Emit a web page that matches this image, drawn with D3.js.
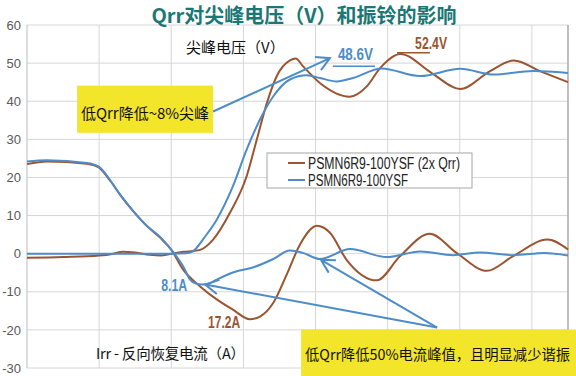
<!DOCTYPE html>
<html>
<head>
<meta charset="utf-8">
<script src="https://cdn.jsdelivr.net/npm/d3@7"></script>
<style>
  body { margin: 0; background: #fff; }
  svg { display: block; }
</style>
</head>
<body>
<div id="chart"></div>
<script>
// axis values
var yTicks = [-30, -20, -10, 0, 10, 20, 30, 40, 50, 60];
var xGrid = [0, 20, 40, 60, 80, 100, 120, 140];
var seriesNames = ["PSMN6R9-100YSF (2x Qrr)", "PSMN6R9-100YSF"];

// spike voltage (V), time in ns
var vBrownT = [0, 10, 20, 24, 26.5, 30, 34, 37, 40.1, 43.5, 46, 48, 51.6, 56.3, 60.9, 63.7, 66.5, 69.2, 72.9, 74.5, 76.5, 81.2, 89.5, 94.2, 97.9, 103.5, 112.2, 120.1, 128.4, 135, 142.2, 150];
var vBrownV = [-1.1, -0.9, -0.5, 0, 0.5, 0.3, -0.3, -0.5, 0, 0.5, 0.7, 1.0, 3.7, 10.8, 20.3, 29.9, 39.5, 46.5, 50.7, 51.2, 49.2, 44.8, 41.2, 43.9, 48.7, 52.4, 47.4, 43.2, 47.9, 50.7, 47.9, 45.0];
var vBlueT = [0, 20, 40, 44, 45.8, 47, 49, 52.6, 57.1, 60.9, 64.6, 68.3, 72.9, 77.6, 81.2, 85.9, 90.4, 98.3, 109, 120.1, 129.5, 140.3, 150];
var vBlueV = [0, 0, 0, 0.1, 0.5, 1.5, 4, 8.9, 17.7, 27.3, 35.2, 41.3, 45.7, 46.8, 46.1, 45.2, 46.1, 48.6, 46.6, 48.5, 47.0, 47.9, 47.4];

// reverse recovery current (A)
var iBrownT = [0, 5.5, 16.6, 19.8, 23, 25.8, 29.5, 33.2, 36.9, 40.1, 43.3, 48, 52.6, 57.1, 61.8, 64.6, 68.3, 72, 75.7, 80.4, 84, 88.6, 97, 103.4, 111.7, 119.1, 127.5, 134.7, 144.3, 150];
var iBrownV = [23.5, 24.2, 23.6, 22.7, 19.2, 15.5, 11.1, 7.3, 4.2, 0.9, -4.2, -8.6, -12, -14.7, -17.2, -16.5, -12.9, -5.5, 2.4, 7.3, 5.5, -1.6, -7, -0.7, 5.2, 0.2, -4.5, -0.7, 3.7, 1.1];
var iBlueT = [0, 5.5, 16.6, 19.8, 23, 25.8, 29.5, 33.2, 36.9, 40.1, 43.3, 45.2, 47, 48.5, 50.5, 52.6, 57.5, 63, 68.3, 72.9, 76.5, 81.2, 89.6, 99.7, 109, 118.1, 125.6, 134.7, 143.5, 150];
var iBlueV = [24.2, 24.5, 23.8, 22.9, 19.4, 15.5, 11.1, 7.3, 4.4, 0.9, -3.3, -6.8, -7.9, -8.1, -7.8, -6.8, -4.8, -3.5, -1.4, 0.8, 0.2, -1.4, 1.2, -0.9, 0.6, -0.4, 0.3, -0.4, 0.2, -0.5];

var brown = "#9b5430";
var blue = "#4d8cc8";
var yellow = "#f3e52a";
var cjk = "'Noto Sans CJK SC', sans-serif";
var narrow = "'Liberation Sans Narrow', 'Liberation Sans', Arial, sans-serif";

function init() {
    var width = 576, height = 376;
    var x = d3.scaleLinear().domain([0, 150]).range([27, 568]);
    var y = d3.scaleLinear().domain([-30, 60]).range([368, 25]);

    var svg = d3.select("#chart").append("svg")
        .attr("width", width)
        .attr("height", height);

    // grid
    svg.append("g").selectAll("line")
        .data(yTicks).enter().append("line")
        .attr("x1", x(0)).attr("x2", x(150))
        .attr("y1", d => y(d)).attr("y2", d => y(d))
        .attr("stroke", "#d6d6d6").attr("stroke-width", 1);
    svg.append("g").selectAll("line")
        .data(xGrid).enter().append("line")
        .attr("x1", d => x(d)).attr("x2", d => x(d))
        .attr("y1", y(60)).attr("y2", y(-30))
        .attr("stroke", d => d === 0 ? "#bcbcbc" : "#d6d6d6").attr("stroke-width", 1);
    svg.append("line")
        .attr("x1", x(150)).attr("x2", x(150))
        .attr("y1", y(60)).attr("y2", y(-30))
        .attr("stroke", "#a8a8a8").attr("stroke-width", 1.5);

    // y axis labels (plain hyphen for negatives)
    var yAxis = d3.axisLeft(y).tickValues(yTicks).tickSize(0).tickPadding(6)
        .tickFormat(d => String(d));
    var ya = svg.append("g").attr("transform", "translate(" + x(0) + ",0)").call(yAxis);
    ya.select(".domain").remove();
    ya.selectAll("text")
        .attr("fill", "#595959")
        .style("font-family", "'Liberation Sans', Arial, sans-serif")
        .style("font-size", "13px");

    // yellow note boxes (behind lines)
    svg.append("rect")
        .attr("x", x(13.9)).attr("y", y(44.1))
        .attr("width", x(51.6) - x(13.9)).attr("height", y(31.7) - y(44.1))
        .attr("fill", yellow);
    svg.append("rect")
        .attr("x", x(76)).attr("y", y(-19.9))
        .attr("width", 576 - x(76)).attr("height", 376 - y(-19.9))
        .attr("fill", yellow);

    // lines
    function pts(ts, vs) { return ts.map((t, i) => [t, vs[i]]); }
    var line = d3.line()
        .x(d => x(d[0])).y(d => y(d[1]))
        .curve(d3.curveMonotoneX);
    var series = [
        { d: pts(iBrownT, iBrownV), c: brown },
        { d: pts(vBrownT, vBrownV), c: brown },
        { d: pts(iBlueT, iBlueV), c: blue },
        { d: pts(vBlueT, vBlueV), c: blue }
    ];
    svg.append("g").selectAll("path")
        .data(series).enter().append("path")
        .attr("d", d => line(d.d))
        .attr("fill", "none")
        .attr("stroke", d => d.c)
        .attr("stroke-width", 2);

    // arrows
    function arrow(t1, v1, t2, v2) {
        var x1 = x(t1), y1 = y(v1), x2 = x(t2), y2 = y(v2);
        var a = Math.atan2(y2 - y1, x2 - x1);
        var len = 15, sp = 0.5;
        svg.append("path")
            .attr("d", "M" + x1 + "," + y1 + "L" + x2 + "," + y2 +
                "M" + (x2 - len * Math.cos(a - sp)) + "," + (y2 - len * Math.sin(a - sp)) +
                "L" + x2 + "," + y2 +
                "L" + (x2 - len * Math.cos(a + sp)) + "," + (y2 - len * Math.sin(a + sp)))
            .attr("fill", "none")
            .attr("stroke", blue)
            .attr("stroke-width", 2);
    }
    arrow(51.6, 37.3, 84, 51.3);
    arrow(113.7, -19.4, 49.4, -8.1);
    arrow(113.7, -19.4, 81.5, -1.6);

    // value markers
    svg.append("line")
        .attr("x1", x(84.8)).attr("x2", x(96.5))
        .attr("y1", y(49.2)).attr("y2", y(49.2))
        .attr("stroke", blue).attr("stroke-width", 1.5);
    svg.append("line")
        .attr("x1", x(102.6)).attr("x2", x(111.7))
        .attr("y1", y(52.7)).attr("y2", y(52.7))
        .attr("stroke", brown).attr("stroke-width", 1.5);

    function label(tx, tv, txt, col, len) {
        svg.append("text")
            .attr("x", x(tx)).attr("y", y(tv))
            .attr("fill", col)
            .attr("textLength", len)
            .attr("lengthAdjust", "spacingAndGlyphs")
            .style("font-family", narrow)
            .style("font-size", "16px")
            .style("font-weight", "bold")
            .text(txt);
    }
    label(86.2, 50.8, "48.6V", blue, 35);
    label(107.6, 53.8, "52.4V", brown, 32);
    label(37.2, -9.7, "8.1A", blue, 26);
    label(50.2, -19.5, "17.2A", brown, 32);

    // legend
    var lg = svg.append("g").attr("transform", "translate(267,153)");
    lg.append("rect")
        .attr("width", 205).attr("height", 35)
        .attr("fill", "#fff").attr("stroke", "#a6a6a6");
    [brown, blue].forEach((c, i) => {
        lg.append("line")
            .attr("x1", 21).attr("x2", 38)
            .attr("y1", 10 + i * 17).attr("y2", 10 + i * 17)
            .attr("stroke", c).attr("stroke-width", 2);
        lg.append("text")
            .attr("x", 41).attr("y", 15.5 + i * 17)
            .attr("fill", "#222")
            .attr("textLength", i === 0 ? 152 : 100)
            .attr("lengthAdjust", "spacingAndGlyphs")
            .style("font-family", narrow)
            .style("font-size", "16px")
            .text(seriesNames[i]);
    });

    // title and notes
    svg.append("text")
        .attr("x", 304).attr("y", 22.5)
        .attr("text-anchor", "middle")
        .attr("fill", "#1a7775")
        .style("font-family", cjk)
        .style("font-size", "20px")
        .style("font-weight", "bold")
        .text("Qrr对尖峰电压（V）和振铃的影响");

    svg.append("text")
        .attr("x", 186).attr("y", 53)
        .attr("fill", "#111")
        .style("font-family", cjk)
        .style("font-size", "15px")
        .text("尖峰电压（V）");
    svg.append("text")
        .attr("x", 96).attr("y", 359)
        .attr("fill", "#111")
        .attr("textLength", 149)
        .attr("lengthAdjust", "spacing")
        .style("font-family", cjk)
        .style("font-size", "14.5px")
        .text("Irr - 反向恢复电流（A）");
    svg.append("text")
        .attr("x", 145).attr("y", 119)
        .attr("text-anchor", "middle")
        .attr("fill", "#111")
        .style("font-family", cjk)
        .style("font-size", "15px")
        .text("低Qrr降低~8%尖峰");
    svg.append("text")
        .attr("x", 305).attr("y", 360)
        .attr("fill", "#111")
        .attr("textLength", 265)
        .attr("lengthAdjust", "spacingAndGlyphs")
        .style("font-family", cjk)
        .style("font-size", "14.5px")
        .text("低Qrr降低50%电流峰值，且明显减少谐振");
}
window.onload = init;
</script>
</body>
</html>
